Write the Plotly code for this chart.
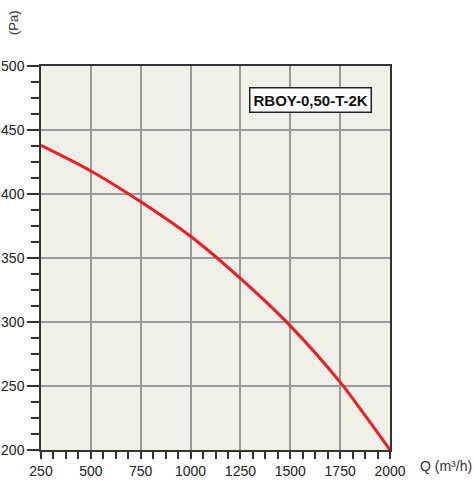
import plotly.graph_objects as go

# Fan curve
flow = [250, 500, 750, 1000, 1250, 1500, 1750, 1875, 2000]
pressure = [438, 418, 394, 367, 334, 297, 253, 227, 200]

model_name = 'RBOY-0,50-T-2K'
x_ticks = [250, 500, 750, 1000, 1250, 1500, 1750, 2000]
y_ticks = [200, 250, 300, 350, 400, 450, 500]

font = 'Liberation Sans, Arial, sans-serif'

curve = go.Scatter(x=flow, y=pressure, mode='lines',
                   line=dict(color='#EE1C25', width=3, shape='spline', smoothing=0.8),
                   showlegend=False, hoverinfo='x+y')

fig = go.Figure(data=[curve])

fig.update_layout(
    width=474, height=483,
    margin=dict(l=41, r=84, t=66, b=33),
    paper_bgcolor='white',
    plot_bgcolor='#F1F0E8',
    font=dict(family=font, size=14, color='#222'),
)

fig.update_xaxes(range=[250, 2000], tickvals=x_ticks, showgrid=True, gridcolor='#9A9A9A', gridwidth=1.5,
                 showline=True, linecolor='#333', linewidth=1.5, mirror=True, automargin=False,
                 ticks='outside', ticklen=7, tickcolor='#333', tickwidth=1.5,
                 minor=dict(dtick=62.5, tick0=250, ticks='outside', ticklen=7, tickcolor='#333', tickwidth=1.5, showgrid=False),
                 zeroline=False)
fig.update_yaxes(range=[200, 500], tickvals=y_ticks, showgrid=True, gridcolor='#9A9A9A', gridwidth=1.5,
                 showline=True, linecolor='#333', linewidth=1.5, mirror=True, automargin=False,
                 ticks='outside', ticklen=12, tickcolor='#333', tickwidth=1.5,
                 minor=dict(dtick=12.5, tick0=200, ticks='outside', ticklen=8, tickcolor='#333', tickwidth=1.5, showgrid=False),
                 zeroline=False)

fig.add_annotation(x=1600, y=473.5, xref='x', yref='y', text='<b>' + model_name + '</b>', showarrow=False,
                   font=dict(size=15, color='#111'), bgcolor='white', bordercolor='#222', borderwidth=1.5, borderpad=3)

# axis titles, placed in pixel terms relative to the plot area
fig.add_annotation(xref='paper', yref='paper', x=(13 - 41) / 349, y=(483 - 33 - 22) / 384, text='(Pa)',
                   xanchor='center', yanchor='middle', showarrow=False, textangle=-90, font=dict(size=13, color='#333'))
fig.add_annotation(xref='paper', yref='paper', x=(446 - 41) / 349, y=(483 - 33 - 466) / 384, text='Q (m³/h)',
                   xanchor='center', yanchor='middle', showarrow=False, font=dict(size=14, color='#333'))

# the page body has a default 8px margin; drop it so the figure sits at the window corner
fig.write_html('out.html', config={'displayModeBar': False},
               post_script="document.body.style.margin='0';")
